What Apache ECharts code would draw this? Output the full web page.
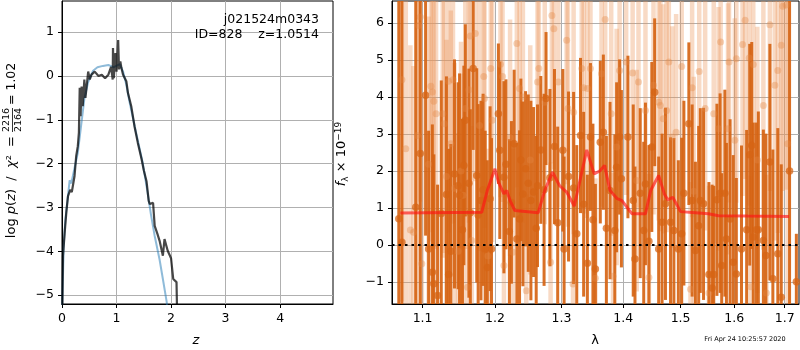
<!DOCTYPE html>
<html>
<head>
<meta charset="utf-8">
<script src="https://cdn.jsdelivr.net/npm/echarts@6/dist/echarts.min.js"></script>
<style>html,body{margin:0;padding:0;background:#fff}#chart{width:800px;height:350px}</style>
</head>
<body>
<div id="chart"></div>
<script>
// p(z) panel
const pzZ = [0.0,0.018,0.05,0.08,0.11,0.15,0.18,0.23,0.26,0.29,0.31,0.325,0.34,0.36,0.38,0.41,0.43,0.48,0.51,0.54,0.60,0.67,0.73,0.79,0.85,0.90,0.93,0.935,0.95,0.98,1.00,1.03,1.045,1.07,1.09,1.12,1.18,1.21,1.27,1.33,1.39,1.46,1.50,1.55,1.59,1.61,1.67,1.70,1.75,1.79,1.85,1.88,1.94,1.98,2.00,2.04,2.10,2.12]
const pzLog = [-6.0,-4.1,-3.56,-3.1,-2.74,-2.6,-2.65,-2.28,-1.83,-1.6,-1.29,-0.27,-0.92,-0.24,-0.69,-0.08,-0.5,0.1,-0.08,0.03,0.1,0.0,0.03,-0.05,0.03,0.21,-0.08,0.64,-0.05,0.52,0.1,0.82,0.15,0.33,0.18,0.03,-0.12,-0.39,-0.69,-1.15,-1.52,-1.9,-2.15,-2.4,-2.85,-2.92,-2.89,-3.42,-3.6,-3.76,-4.1,-3.72,-3.99,-4.1,-4.16,-4.63,-4.7,-6.0]
const fitZ = [0.0,0.03,0.06,0.1,0.14,0.17,0.23,0.29,0.35,0.41,0.48,0.57,0.65,0.75,0.85,0.95,1.06,1.12,1.18,1.24,1.36,1.48,1.57,1.63,1.70,1.79,1.85,1.92,1.95]
const fitLog = [-5.5,-3.9,-3.3,-2.85,-2.38,-2.45,-2.1,-1.75,-1.14,-0.52,-0.14,0.12,0.2,0.23,0.25,0.2,0.27,0.1,-0.2,-0.6,-1.3,-1.98,-2.66,-3.15,-3.65,-4.19,-4.63,-5.15,-5.6]
const zTicks = [0, 1, 2, 3, 4]
const pzTicks = [-5, -4, -3, -2, -1, 0, 1]

// spectrum panel
const darkLam = [1.069,1.073,1.091,1.097,1.104,1.108,1.113,1.115,1.120,1.125,1.132,1.135,1.138,1.143,1.148,1.150,1.154,1.156,1.158,1.163,1.165,1.169,1.174,1.176,1.180,1.183,1.186,1.189,1.193,1.195,1.205,1.207,1.213,1.216,1.221,1.224,1.228,1.232,1.236,1.238,1.241,1.245,1.249,1.253,1.257,1.261,1.263,1.268,1.273,1.276,1.282,1.289,1.294,1.302,1.304,1.311,1.319,1.324,1.330,1.335,1.341,1.346,1.350,1.354,1.362,1.367,1.372,1.378,1.386,1.389,1.394,1.397,1.408,1.417,1.420,1.429,1.435,1.438,1.444,1.449,1.454,1.461,1.467,1.473,1.482,1.488,1.496,1.502,1.506,1.515,1.521,1.527,1.533,1.536,1.542,1.552,1.558,1.561,1.567,1.573,1.576,1.582,1.585,1.592,1.598,1.604,1.614,1.624,1.630,1.634,1.637,1.643,1.647,1.657,1.662,1.670,1.676,1.686,1.693,1.710,1.724]
const darkFlux = [0.71,0.07,1.02,2.47,4.05,-0.11,-0.74,-1.05,-1.37,0.85,1.36,-0.8,-0.17,1.92,1.6,1.34,0.41,2.15,3.37,1.67,0.87,4.77,1.88,0.81,1.2,1.49,-0.11,-0.61,1.25,-0.11,3.55,2.56,1.83,2.18,0.36,1.15,2.74,0.16,0.7,2.3,1.38,2.06,1.67,1.2,1.43,0.45,1.6,2.57,1.49,3.96,1.82,2.66,0.6,2.56,-0.11,1.85,1.54,0.3,2.96,1.1,-0.5,2.92,0.68,-0.65,2.78,3.05,0.45,1.47,0.39,2.1,2.92,1.79,2.92,1.2,-0.38,1.4,0.39,1.65,0.1,2.65,4.13,-0.11,0.61,1.11,0.61,0.39,-0.11,0.3,1.4,3.28,1.2,-0.15,0.52,1.2,1.11,-0.8,-1.17,-0.8,1.22,1.4,-0.56,1.4,0.16,0.7,-0.47,-0.79,-0.11,0.41,2.44,2.69,0.21,0.41,0.41,0.12,-0.29,2.24,-0.92,-0.24,-1.42,2.0,-1.0]
const darkErr = [7,7,7,7,3.8,3.2,4.0,3.5,3.0,3.6,3.2,3.4,2.9,3.1,2.8,3.3,3.0,2.7,2.6,3.1,2.8,2.2,2.9,3.0,2.7,2.6,3.2,2.9,2.5,3.0,1.9,2.4,2.6,2.3,2.5,2.2,2.0,2.6,2.4,2.2,2.5,2.1,2.4,2.7,2.3,2.5,2.2,2.0,2.6,1.8,2.4,2.1,2.6,2.2,2.5,2.3,2.6,2.4,2.1,2.5,2.4,2.0,2.6,2.3,2.2,2.1,2.5,2.4,2.6,2.3,2.1,2.4,2.2,2.6,2.5,2.3,2.4,2.2,2.6,2.3,2.0,2.5,2.4,2.6,2.3,2.5,2.4,2.6,2.5,2.2,2.6,2.4,2.7,2.5,2.6,2.5,2.8,2.4,2.6,2.7,2.5,2.8,2.6,2.7,2.9,2.6,2.8,2.7,3.0,2.8,3.1,2.9,3.2,3.0,3.3,3.2,3.5,3.4,3.6,5.5,1.3]
const lightLam = [1.073,1.078,1.084,1.088,1.093,1.095,1.097,1.099,1.108,1.111,1.113,1.115,1.118,1.127,1.129,1.132,1.135,1.138,1.141,1.143,1.148,1.152,1.155,1.158,1.161,1.163,1.165,1.167,1.172,1.178,1.184,1.185,1.190,1.194,1.196,1.208,1.211,1.213,1.222,1.226,1.232,1.236,1.241,1.246,1.252,1.263,1.265,1.274,1.283,1.285,1.288,1.295,1.308,1.310,1.318,1.319,1.332,1.335,1.341,1.346,1.354,1.364,1.370,1.380,1.383,1.389,1.394,1.405,1.416,1.423,1.426,1.438,1.444,1.452,1.461,1.464,1.469,1.475,1.479,1.485,1.492,1.502,1.518,1.521,1.524,1.534,1.545,1.552,1.561,1.570,1.574,1.588,1.590,1.601,1.604,1.616,1.621,1.629,1.632,1.637,1.645,1.657,1.663,1.670,1.680,1.686,1.693,1.696,1.703,1.706]
const lightFlux = [4.47,2.6,0.4,0.34,2.96,5.94,6.17,-0.51,2.18,4.29,4.14,3.89,3.55,3.55,3.28,1.85,4.43,2.74,4.47,1.53,-0.17,2.0,1.34,3.69,-1.15,4.2,5.65,0.12,5.72,3.23,4.56,3.96,-0.3,4.77,3.37,4.89,4.56,-0.56,2.9,-0.2,5.45,4.23,4.0,-1.24,2.3,4.41,4.77,3.86,-0.47,6.21,5.85,4.41,5.54,3.69,-1.06,3.59,4.77,4.25,4.23,4.77,-0.9,4.63,6.1,3.55,-0.85,2.65,4.72,4.95,4.65,1.74,4.41,3.64,-0.88,4.32,3.86,3.77,3.41,3.64,4.95,2.92,3.05,4.83,-1.2,4.25,1.45,4.69,3.69,-1.3,3.55,3.14,5.49,3.14,4.95,2.83,5.04,5.42,6.08,5.06,-1.13,4.88,2.3,3.77,-1.3,5.96,4.32,4.72,5.4,6.46,6.49,2.74]
const lightErr = [6,5,5,4.5,5,5,5,4.5,4.0,4.2,3.8,4.0,3.6,3.9,3.5,3.7,4.1,3.6,3.9,3.4,3.2,3.5,3.3,3.8,2.8,3.6,3.9,3.1,4.0,3.4,3.7,3.5,2.9,3.8,3.3,3.6,3.4,2.7,3.2,2.8,3.9,3.5,3.4,2.6,3.1,3.5,3.7,3.3,2.7,4.0,3.8,3.4,3.9,3.2,2.6,3.3,3.6,3.4,3.5,3.8,2.7,3.6,4.0,3.3,2.8,3.2,3.7,3.6,3.5,3.0,3.4,3.3,2.8,3.5,3.2,3.4,3.1,3.3,3.7,3.0,3.2,3.6,2.9,3.5,3.1,3.6,3.3,2.9,3.5,3.3,4.0,3.4,3.8,3.3,3.9,4.1,4.3,4.0,3.0,4.1,3.6,3.9,3.2,4.5,4.2,4.4,4.6,5.0,5.0,4.5]
const modelLam = [1.071,1.181,1.189,1.200,1.205,1.213,1.217,1.222,1.229,1.264,1.274,1.286,1.297,1.308,1.320,1.327,1.340,1.352,1.361,1.369,1.378,1.390,1.398,1.404,1.415,1.438,1.447,1.461,1.471,1.477,1.486,1.500,1.527,1.551,1.570,1.626,1.709]
const modelFlux = [0.86,0.88,1.47,2.06,1.7,1.38,1.47,1.2,0.93,0.87,1.47,1.97,1.6,1.43,1.05,1.58,2.57,1.92,2.0,2.15,1.47,1.25,1.2,1.07,0.84,0.84,1.47,1.88,1.38,1.22,1.29,0.9,0.87,0.84,0.79,0.78,0.77]
const lamTicks = [1.1, 1.2, 1.3, 1.4, 1.5, 1.6, 1.7]
const fluxTicks = [-1, 0, 1, 2, 3, 4, 5, 6]

const FONT = 'DejaVu Sans'
const minus = v => String(v).replace('-', '\u2212')

const chart = echarts.init(document.getElementById('chart'))

function axisBase(extra) {
  return Object.assign({
    axisLine: { show: true, onZero: false, lineStyle: { color: '#000', width: 1 } },
    splitLine: { show: true, lineStyle: { color: '#b0b0b0', width: 1 } }
  }, extra)
}

function ticks(values, fmt) {
  return {
    axisLabel: { color: '#000', fontSize: 12.5, fontFamily: FONT, margin: 8, customValues: values, formatter: fmt || minus },
    axisTick: { show: true, length: 4, lineStyle: { color: '#000' }, customValues: values }
  }
}

function errorBars(width) {
  return function (params, api) {
    const x = api.value(0)
    const top = api.coord([x, api.value(2)])
    const bot = api.coord([x, api.value(1)])
    const shape = echarts.graphic.clipRectByRect(
      { x: top[0] - width / 2, y: top[1], width: width, height: bot[1] - top[1] },
      { x: params.coordSys.x, y: params.coordSys.y, width: params.coordSys.width, height: params.coordSys.height }
    )
    return shape && { type: 'rect', shape: shape, style: { fill: api.visual('color') } }
  }
}

const darkColor = 'rgba(214,100,20,0.92)'
const lightBar = 'rgba(235,150,90,0.35)'
const lightDot = 'rgba(228,135,70,0.45)'

chart.setOption({
  animation: false,
  grid: [
    { left: 62, top: 1, width: 271, height: 303, show: true, borderColor: '#000', borderWidth: 1 },
    { left: 392, top: 1, width: 407, height: 303, show: true, borderColor: '#000', borderWidth: 1 }
  ],
  xAxis: [
    axisBase(Object.assign({ gridIndex: 0, type: 'value', min: 0, max: 4.97, interval: 1 }, ticks(zTicks))),
    axisBase(Object.assign({ gridIndex: 1, type: 'log', logBase: 10, min: 1.0603, max: 1.7295 },
      ticks(lamTicks, v => Number(v).toFixed(1))))
  ],
  yAxis: [
    axisBase(Object.assign({ gridIndex: 0, type: 'value', min: -5.2, max: 1.71 }, ticks(pzTicks))),
    axisBase(Object.assign({ gridIndex: 1, type: 'value', min: -1.6, max: 6.6 }, ticks(fluxTicks)))
  ],
  series: [
    { type: 'line', xAxisIndex: 0, yAxisIndex: 0, showSymbol: false, clip: true,
      data: fitZ.map((z, i) => [z, fitLog[i]]),
      lineStyle: { color: 'rgba(31,119,180,0.5)', width: 2 } },
    { type: 'line', xAxisIndex: 0, yAxisIndex: 0, showSymbol: false, clip: true,
      data: pzZ.map((z, i) => [z, pzLog[i]]),
      lineStyle: { color: 'rgba(0,0,0,0.72)', width: 2.2 } },
    { type: 'custom', xAxisIndex: 1, yAxisIndex: 1, renderItem: errorBars(4.5),
      itemStyle: { color: lightBar }, encode: { x: 0, y: [1, 2] },
      data: lightLam.map((l, i) => [l, lightFlux[i] - lightErr[i], lightFlux[i] + lightErr[i]]) },
    { type: 'scatter', xAxisIndex: 1, yAxisIndex: 1, symbolSize: 7,
      itemStyle: { color: lightDot },
      data: lightLam.map((l, i) => [l, lightFlux[i]]) },
    { type: 'custom', xAxisIndex: 1, yAxisIndex: 1, renderItem: errorBars(3),
      itemStyle: { color: darkColor }, encode: { x: 0, y: [1, 2] },
      data: darkLam.map((l, i) => [l, darkFlux[i] - darkErr[i], darkFlux[i] + darkErr[i]]) },
    { type: 'scatter', xAxisIndex: 1, yAxisIndex: 1, symbolSize: 7.5,
      itemStyle: { color: darkColor },
      data: darkLam.map((l, i) => [l, darkFlux[i]]) },
    { type: 'line', xAxisIndex: 1, yAxisIndex: 1, showSymbol: false,
      data: modelLam.map((l, i) => [l, modelFlux[i]]),
      lineStyle: { color: 'rgba(255,20,20,0.65)', width: 3 },
      markLine: { silent: true, symbol: 'none', label: { show: false },
        lineStyle: { color: '#000', type: [2.5, 4], width: 2.2 },
        data: [{ yAxis: 0 }] } }
  ],
  graphic: [
    { type: 'text', z: 100, x: 319, y: 20, style: { text: 'j021524m0343', align: 'right', verticalAlign: 'middle', font: '12.5px "DejaVu Sans"', fill: '#000' } },
    { type: 'text', z: 100, x: 319, y: 35, style: { text: 'ID=828    z=1.0514', align: 'right', verticalAlign: 'middle', font: '12.5px "DejaVu Sans"', fill: '#000' } },
    { type: 'text', z: 100, x: 196, y: 341, style: { text: 'z', align: 'center', verticalAlign: 'middle', font: 'italic 13px "DejaVu Sans"', fill: '#000' } },
    { type: 'text', z: 100, x: 595, y: 341, style: { text: 'λ', align: 'center', verticalAlign: 'middle', font: '13px "DejaVu Sans"', fill: '#000' } },
    { type: 'text', z: 100, x: 745, y: 339, style: { text: 'Fri Apr 24 10:25:57 2020', align: 'center', verticalAlign: 'middle', font: '6.5px "DejaVu Sans"', fill: '#000' } },
    {
      type: 'group', z: 100, x: 12, y: 154, rotation: Math.PI / 2,
      children: [
        { type: 'text', x: 18, y: 0, style: { text: 'log {i|p}({i|z})  /  {i|χ}²  =', align: 'right', verticalAlign: 'middle', font: '13px "DejaVu Sans"', fill: '#000',
          rich: { i: { fontStyle: 'italic', fontSize: 13, fontFamily: FONT } } } },
        { type: 'text', x: 34, y: -5.5, style: { text: '2216', align: 'center', verticalAlign: 'middle', font: '9.5px "DejaVu Sans"', fill: '#000' } },
        { type: 'line', shape: { x1: 22, y1: 0.5, x2: 46, y2: 0.5 }, style: { stroke: '#000', lineWidth: 0.8 } },
        { type: 'text', x: 34, y: 6.5, style: { text: '2164', align: 'center', verticalAlign: 'middle', font: '9.5px "DejaVu Sans"', fill: '#000' } },
        { type: 'text', x: 49, y: 0, style: { text: '= 1.02', align: 'left', verticalAlign: 'middle', font: '12.5px "DejaVu Sans"', fill: '#000' } }
      ]
    },
    {
      type: 'group', z: 100, x: 342, y: 154, rotation: Math.PI / 2,
      children: [
        { type: 'text', x: 0, y: 0, style: { text: '{i|f}{s|λ} × 10{p|−19}', align: 'center', verticalAlign: 'middle', font: '13px "DejaVu Sans"', fill: '#000',
          rich: {
            i: { fontStyle: 'italic', fontSize: 13, fontFamily: FONT, lineHeight: 16 },
            s: { fontSize: 9, fontFamily: FONT, verticalAlign: 'bottom', lineHeight: 16 },
            p: { fontSize: 9, fontFamily: FONT, verticalAlign: 'top', lineHeight: 16 }
          } } }
      ]
    }
  ]
})
</script>
</body>
</html>
